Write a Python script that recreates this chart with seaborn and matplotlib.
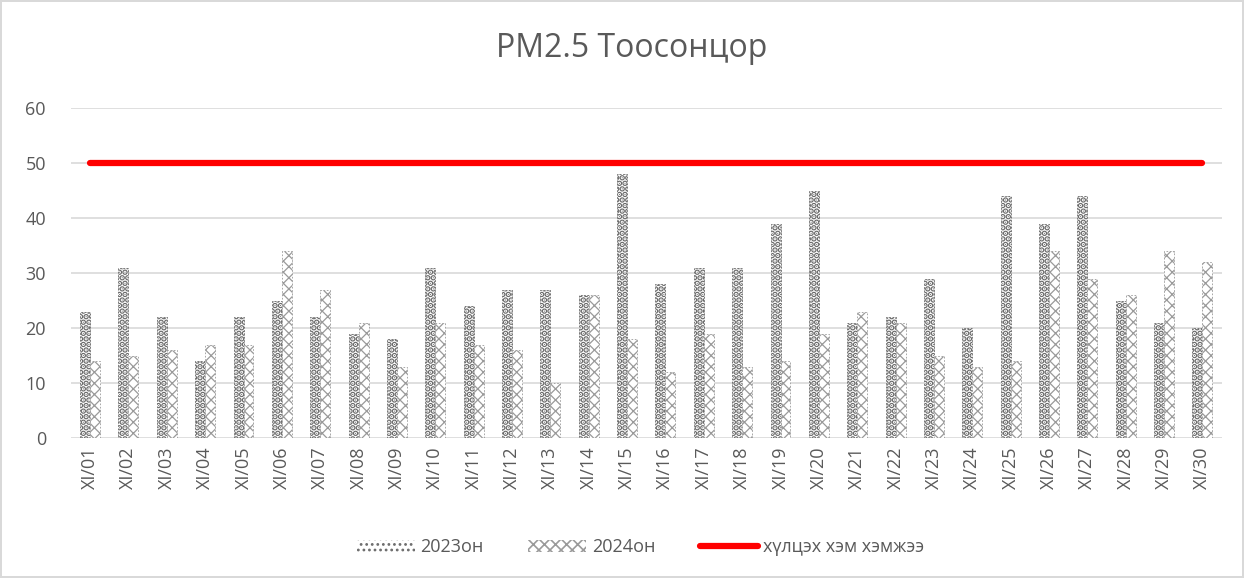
import seaborn as sns
import matplotlib.pyplot as plt
import matplotlib.patches as mpatches
import matplotlib.lines as mlines
import numpy as np
import pandas as pd

days = ["XI/%02d" % d for d in range(1, 31)]
pm_2023 = [23, 31, 22, 14, 22, 25, 22, 19, 18, 31, 24, 27, 27, 26, 48,
           28, 31, 31, 39, 45, 21, 22, 29, 20, 44, 39, 44, 25, 21, 20]
pm_2024 = [14, 15, 16, 17, 17, 34, 27, 21, 13, 21, 17, 16, 10, 26, 18,
           12, 19, 13, 14, 19, 23, 21, 15, 13, 14, 34, 29, 26, 34, 32]
limit = 50
series_names = ["2023он", "2024он"]
limit_name = "хүлцэх хэм хэмжээ"
title = "PM2.5 Тоосонцор"

df = pd.DataFrame({
    "day": days * 2,
    "value": pm_2023 + pm_2024,
    "year": [series_names[0]] * len(days) + [series_names[1]] * len(days),
})

sns.set_theme(style="white")
plt.rcParams["font.family"] = ["Open Sans", "DejaVu Sans"]
plt.rcParams["hatch.linewidth"] = 1.2
txt = "#595959"
edge = "#767676"

fig = plt.figure(figsize=(12.44, 5.78), dpi=100)
fig.patch.set_edgecolor("#d9d9d9")
fig.patch.set_linewidth(1.5)
ax = fig.add_axes([0.057, 0.242, 0.925, 0.571])

sns.barplot(data=df, x="day", y="value", hue="year", order=days,
            palette=["white", "white"], width=0.52, gap=0, ax=ax,
            legend=False, saturation=1)

# 2023: dark spotted (checker look), 2024: lighter zig-zag
hatches = ["...", "xxx"]
hcolors = ["#6a6a6a", "#9a9a9a"]
hlw = [3.0, 0.9]
n = len(days)
for i, bar in enumerate(ax.patches[:2 * n]):
    k = i // n
    bar.set_hatch(hatches[k])
    bar.set_edgecolor(hcolors[k])
    bar.set_linewidth(0.6)
    bar.set_linestyle((0, (2, 2)))
    if hasattr(bar, "set_hatch_linewidth"):
        bar.set_hatch_linewidth(hlw[k])

ax.plot(np.arange(n), [limit] * n, color="red", lw=4.5,
        solid_capstyle="round", zorder=5)

ax.set_ylim(0, 60)
ax.set_xlim(-0.5, n - 0.5)
ax.set_yticks(range(0, 61, 10))
ax.yaxis.grid(True, color="#d9d9d9", lw=1.2)
ax.set_axisbelow(True)
for s in ax.spines.values():
    s.set_visible(False)
ax.set_xlabel("")
ax.set_ylabel("")
ax.tick_params(axis="y", labelsize=13, colors=txt, length=0, pad=18)
ax.tick_params(axis="x", labelsize=13, colors=txt, length=0, rotation=90, pad=6)

fig.suptitle(title, x=0.508, y=0.945, fontsize=23, color=txt)

legend_handles = []
for k in range(2):
    p = mpatches.Patch(facecolor="white", edgecolor=hcolors[k],
                       hatch=hatches[k], lw=0)
    if hasattr(p, "set_hatch_linewidth"):
        p.set_hatch_linewidth(hlw[k])
    legend_handles.append(p)
legend_handles.append(mlines.Line2D([], [], color="red", lw=4.5,
                                    solid_capstyle="round"))
fig.legend(legend_handles, series_names + [limit_name], loc="center",
           bbox_to_anchor=(0.515, 0.053), ncol=3, frameon=False,
           fontsize=13, labelcolor=txt, handlelength=3.2, columnspacing=2.5,
           handletextpad=0.3)

fig.savefig("out.png", dpi=100)
